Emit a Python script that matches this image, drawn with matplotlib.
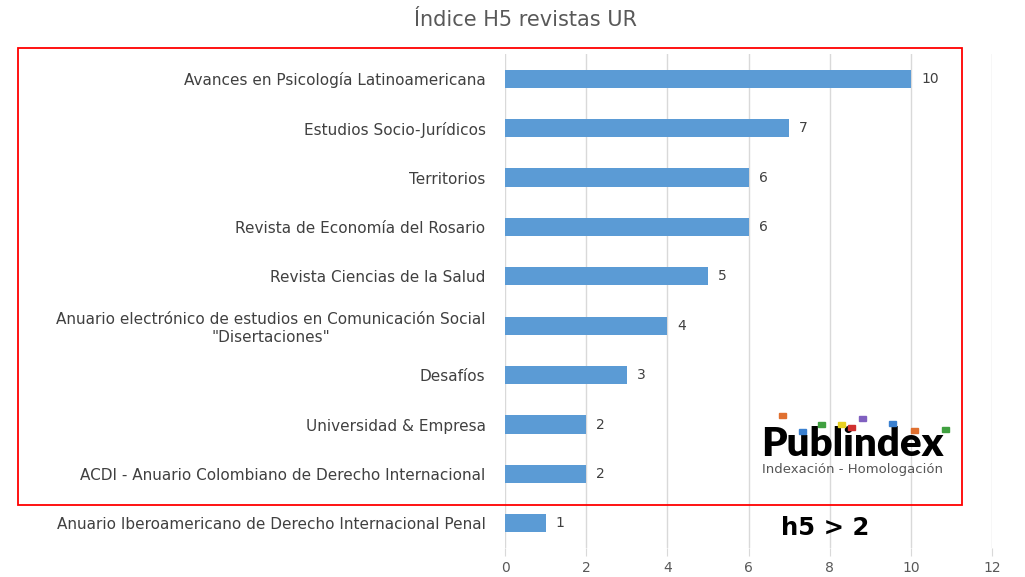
import matplotlib.pyplot as plt
from matplotlib.patches import Rectangle

revistas = [
    "Avances en Psicología Latinoamericana",
    "Estudios Socio-Jurídicos",
    "Territorios",
    "Revista de Economía del Rosario",
    "Revista Ciencias de la Salud",
    "Anuario electrónico de estudios en Comunicación Social\n\"Disertaciones\"",
    "Desafíos",
    "Universidad & Empresa",
    "ACDI - Anuario Colombiano de Derecho Internacional",
    "Anuario Iberoamericano de Derecho Internacional Penal",
]
h5 = [10, 7, 6, 6, 5, 4, 3, 2, 2, 1]
xticks = [0, 2, 4, 6, 8, 10, 12]

fig = plt.figure(figsize=(10.25, 5.77), dpi=100)
ax = fig.add_axes([505 / 1025, 1 - 548 / 577, 487 / 1025, 494 / 577])

ypos = list(range(len(revistas)))
ax.barh(ypos, h5, height=0.37, color="#5B9BD5", zorder=3)
ax.set_ylim(len(revistas) - 0.5, -0.5)
ax.set_xlim(0, 12)
ax.set_xticks(xticks)
ax.set_yticks(ypos)
ax.set_yticklabels(revistas, fontsize=11, color="#404040", multialignment="center")
ax.tick_params(axis="y", length=0, pad=14)
ax.tick_params(axis="x", length=6, color="#d9d9d9", labelsize=10, labelcolor="#595959", pad=3)
ax.grid(axis="x", color="#d9d9d9", linewidth=1, zorder=0)
for s in ax.spines.values():
    s.set_visible(False)

for y, v in zip(ypos, h5):
    ax.text(v + 0.25, y, str(v), va="center", ha="left", fontsize=10, color="#404040")

fig.text(526 / 1025, 1 - 20 / 577, "Índice H5 revistas UR", ha="center", va="center",
         fontsize=15, color="#595959")

# red frame
fig.patches.append(Rectangle((18 / 1025, 1 - 505 / 577), 944 / 1025, 457 / 577,
                             transform=fig.transFigure, fill=False,
                             edgecolor="#ff0000", linewidth=1.3, zorder=10))

# Publindex logo
fig.text(852 / 1025, 1 - 444 / 577, "Publindex", ha="center", va="center",
         fontsize=29, fontweight="heavy", color="black",
         family=["Lato", "DejaVu Sans"])
fig.text(852 / 1025, 1 - 470 / 577, "Indexación - Homologación", ha="center", va="center",
         fontsize=9.5, color="#555555")
dots = [(779, 418, "#e07030"), (799, 434, "#3a80d0"), (818, 427, "#40a040"),
        (838, 427, "#e8d020"), (848, 430, "#d03030"), (859, 421, "#8060c0"),
        (889, 426, "#3a80d0"), (911, 433, "#e07030"), (942, 432, "#40a040")]
for x, y, c in dots:
    fig.patches.append(Rectangle((x / 1025, 1 - y / 577), 7 / 1025, 5 / 577,
                                 transform=fig.transFigure, color=c, zorder=10))

fig.text(825 / 1025, 1 - 528 / 577, "h5 > 2", ha="center", va="center",
         fontsize=17.5, fontweight="bold", color="black")

fig.savefig("out.png", dpi=100)
